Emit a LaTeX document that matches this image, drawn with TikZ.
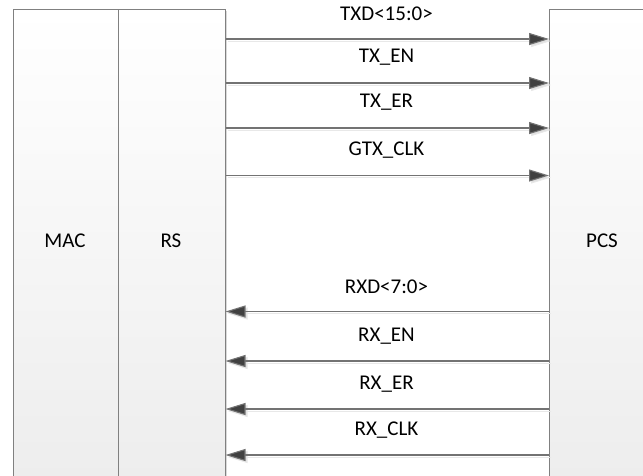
\documentclass[tikz,border=0pt]{standalone}
\usepackage{fontspec}
\setmainfont{Carlito}
\usetikzlibrary{arrows.meta}
\begin{document}
\begin{tikzpicture}[x=1pt,y=-1pt,
  blk/.style={draw=black!50, line width=1pt, top color=white, bottom color=black!7,
    minimum width=#1, minimum height=468pt, inner sep=0pt, anchor=north west,
    font=\fontsize{21}{24}\selectfont, text=black},
  lbl/.style={font=\fontsize{21}{24}\selectfont, inner sep=0pt, text=black},
  sig/.style={draw=black!55, line width=1.1pt, -{Triangle[length=20pt,width=12pt,fill=black!75]}},
  sigshadow/.style={draw=black!9, line width=1pt, -{Triangle[length=20pt,width=12pt,fill=black!12]}}]
\useasboundingbox (0,0) rectangle (643,475);
\clip (0,0) rectangle (643,475);
% box shadows
\fill[black!15] (15,11) rectangle (227,480);
% boxes
\node[blk=105.5] (mac) at (12.5,8.5) {};
\node[blk=106.5] (rs) at (118,8.5) {};
\node[blk=107] (pcs) at (549,8.5) {};
\node[lbl] (macl) at (65,241) {MAC};
\node[lbl] (rsl) at (171,241) {RS};
\node[lbl] (pcsl) at (602,241) {PCS};
% TX signals
\foreach \n/\y/\t in {a/39/{TXD<15:0>}, b/83/{TX\_EN}, c/128/{TX\_ER}, d/175.5/{GTX\_CLK}}{
  \coordinate (tx\n s) at (rs.east |- 0,\y);
  \coordinate (tx\n e) at (pcs.west |- 0,\y);
  \draw[sigshadow] ([shift={(2,2)}]tx\n s) -- ([shift={(2,2)}]tx\n e);
  \draw[sig] (tx\n s) -- (tx\n e);
  \node[lbl] (txl\n) at (386.5,\y-25.5) {\t};
}
% RX signals
\foreach \n/\y/\t in {a/311.5/{RXD<7:0>}, b/361/{RX\_EN}, c/409/{RX\_ER}, d/455/{RX\_CLK}}{
  \coordinate (rx\n s) at (pcs.west |- 0,\y);
  \coordinate (rx\n e) at (rs.east |- 0,\y);
  \draw[sigshadow] ([shift={(2,2)}]rx\n s) -- ([shift={(2,2)}]rx\n e);
  \draw[sig] (rx\n s) -- (rx\n e);
  \node[lbl] (rxl\n) at (386.5,\y-24.5) {\t};
}
\end{tikzpicture}
\end{document}
